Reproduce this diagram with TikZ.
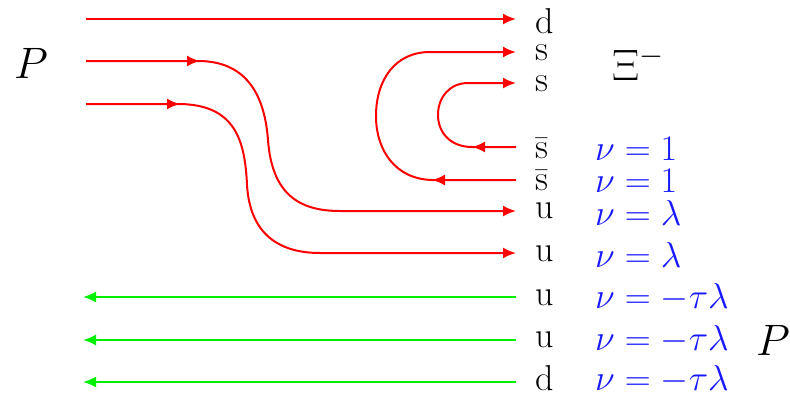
\RequirePackage{fix-cm}
\documentclass[tikz,border=0pt]{standalone}
\usetikzlibrary{arrows.meta}
\definecolor{qred}{RGB}{255,0,0}
\definecolor{qgreen}{RGB}{0,240,0}
\definecolor{qblue}{RGB}{25,25,255}
\begin{document}
\begin{tikzpicture}[x=1pt,y=-1pt,
  quark/.style={font=\fontsize{36}{40}\selectfont, inner sep=0pt, outer xsep=19pt, anchor=base west},
  nulab/.style={font=\fontsize{36}{40}\selectfont, text=qblue, inner sep=0pt, anchor=base west},
  biglab/.style={font=\fontsize{44}{48}\selectfont, inner sep=0pt, anchor=base west},
  rq/.style={draw=qred, line width=2pt},
  gq/.style={draw=qgreen, line width=2pt},
  tipped/.style={-{Latex[length=13pt,width=11pt]}}
]
\fill[white] (0,0) rectangle (790,394);
\useasboundingbox (0,0) rectangle (790,394);

% quark labels
\node[quark] (d1) at (516,33) {d};
\node[quark] (s1) at (516,60) {s};
\node[quark] (s2) at (516,91) {s};
\node[quark] (sb1) at (516,158) {$\bar{\mathrm{s}}$};
\node[quark] (sb2) at (516,190) {$\bar{\mathrm{s}}$};
\node[quark] (u1) at (516,218) {u};
\node[quark] (u2) at (516,261) {u};
\node[quark] (u3) at (516,305) {u};
\node[quark] (u4) at (516,347) {u};
\node[quark] (d2) at (516,390) {d};

% blue labels
\node[nulab] (n1) at (595,160) {$\nu=1$};
\node[nulab] (n2) at (595,192) {$\nu=1$};
\node[nulab] (n3) at (595,225) {$\nu=\lambda$};
\node[nulab] (n4) at (595,267) {$\nu=\lambda$};
\node[nulab] (n5) at (595,308) {$\nu=-\tau\lambda$};
\node[nulab] (n6) at (595,350) {$\nu=-\tau\lambda$};
\node[nulab] (n7) at (595,390) {$\nu=-\tau\lambda$};

% hadron labels
\node[biglab] (xi) at (612,80) {$\Xi^-$};
\node[biglab] (pl) at (14,78) {$P$};
\node[biglab] (pr) at (756,355) {$P$};

% red incoming lines
\coordinate (a1) at (86,19);
\coordinate (a2) at (86,61);
\coordinate (k2) at (200,61);
\coordinate (a3) at (86,104);
\coordinate (k3) at (180,104);
\coordinate (e1) at (516,211);
\coordinate (e2) at (516,253);
\coordinate (e3) at (516,52);
\coordinate (e4) at (516,83);

\draw[rq,tipped] (a1) -- (a1 -| d1.west);
\draw[rq,tipped] (a2) -- (k2) .. controls (250,62) and (265,100) .. (268,140)
   .. controls (272,195) and (300,211) .. (340,211) -- (e1 -| u1.west);
\draw[rq,tipped] (a2) -- (k2);
\draw[rq,tipped] (a3) -- (k3) .. controls (235,105) and (245,140) .. (247,185)
   .. controls (250,235) and (280,253) .. (320,253) -- (e2 -| u2.west);
\draw[rq,tipped] (a3) -- (k3);

% s sbar loops
\coordinate (m1) at (432,180);
\draw[rq,tipped] (m1 -| sb2.west) -- (m1) .. controls (395,179) and (376,150) .. (376,116)
   .. controls (376,80) and (395,52) .. (430,52) -- (e3 -| s1.west);
\draw[rq,tipped] (m1 -| sb2.west) -- (m1);
\coordinate (m2) at (472,147);
\draw[rq,tipped] (m2 -| sb1.west) -- (m2) .. controls (450,147) and (438,132) .. (438,115)
   .. controls (438,97) and (450,83) .. (468,83) -- (e4 -| s2.west);
\draw[rq,tipped] (m2 -| sb1.west) -- (m2);

% green outgoing lines
\coordinate (g1) at (83,297);
\coordinate (g2) at (83,340);
\coordinate (g3) at (83,382);
\draw[gq,tipped] (g1 -| u3.west) -- (g1);
\draw[gq,tipped] (g2 -| u4.west) -- (g2);
\draw[gq,tipped] (g3 -| d2.west) -- (g3);
\end{tikzpicture}
\end{document}
